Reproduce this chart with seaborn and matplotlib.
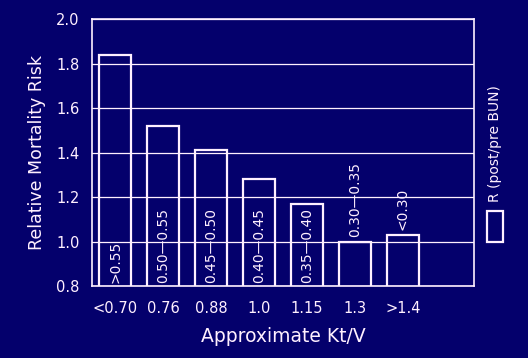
import matplotlib.pyplot as plt
import pandas as pd
import seaborn as sns
from matplotlib.patches import Rectangle

# 데이터
kt_v = ["<0.70", "0.76", "0.88", "1.0", "1.15", "1.3", ">1.4"]
risk = [1.84, 1.52, 1.41, 1.28, 1.17, 1.00, 1.03]
ratio_ranges = [">0.55", "0.50\u20140.55", "0.45\u20140.50", "0.40\u20140.45",
                "0.35\u20140.40", "0.30\u20140.35", "<0.30"]
y_ticks = [0.8, 1.0, 1.2, 1.4, 1.6, 1.8, 2.0]

BG = "#04006c"
FG = "#fff0ff"

sns.set_theme(style="white", rc={
    "figure.facecolor": BG, "axes.facecolor": BG, "axes.edgecolor": FG,
    "text.color": FG, "xtick.color": FG, "ytick.color": FG, "axes.labelcolor": FG,
})
plt.rcParams["font.family"] = ["DejaVu Sans"]

df = pd.DataFrame({"ktv": kt_v, "risk": risk, "range": ratio_ranges})

fig = plt.figure(figsize=(5.28, 3.58), dpi=100)
ax = fig.add_axes([92 / 528, 1 - 286 / 358, (474 - 92) / 528, (286 - 19) / 358])

sns.barplot(data=df, x="ktv", y="risk", order=kt_v, fill=False, width=0.667,
            color=FG, linewidth=1.6, ax=ax, zorder=3)
for p in ax.patches:
    p.set_edgecolor(FG)
    p.set_facecolor("none")

ax.set_ylim(0.8, 2.0)
ax.set_xlim(-0.48, 7.48)
ax.set_yticks(y_ticks)
ax.set_yticklabels([f"{v:.1f}" for v in y_ticks])
ax.yaxis.grid(True, color=FG, linewidth=0.9)
ax.xaxis.grid(False)
ax.set_axisbelow(True)
ax.tick_params(axis="both", length=0, labelsize=10.5)
ax.tick_params(axis="y", pad=9)
ax.tick_params(axis="x", pad=11)
for s in ax.spines.values():
    s.set_linewidth(1.2)
    s.set_edgecolor(FG)

ax.set_xlabel("Approximate Kt/V", fontsize=13.5, labelpad=8)
ax.set_ylabel("Relative Mortality Risk", fontsize=12.5, labelpad=7)

# 막대 안/위의 범위 라벨
for i, (val, lab) in enumerate(zip(risk, ratio_ranges)):
    if val > 1.1:
        ax.text(i, 0.812, lab, rotation=90, ha="center", va="bottom", fontsize=10, zorder=4)
    else:
        ax.text(i, val + 0.022, lab, rotation=90, ha="center", va="bottom", fontsize=10, zorder=4)

# 범례
fig.patches.append(Rectangle((487 / 528, 1 - 242 / 358), 16 / 528, 31 / 358,
                             transform=fig.transFigure, fill=False,
                             edgecolor=FG, linewidth=1.6))
fig.text(495 / 528, 1 - 202 / 358, "R (post/pre BUN)", rotation=90,
         ha="center", va="bottom", fontsize=10)

fig.savefig("out.png", dpi=100, facecolor=BG)
